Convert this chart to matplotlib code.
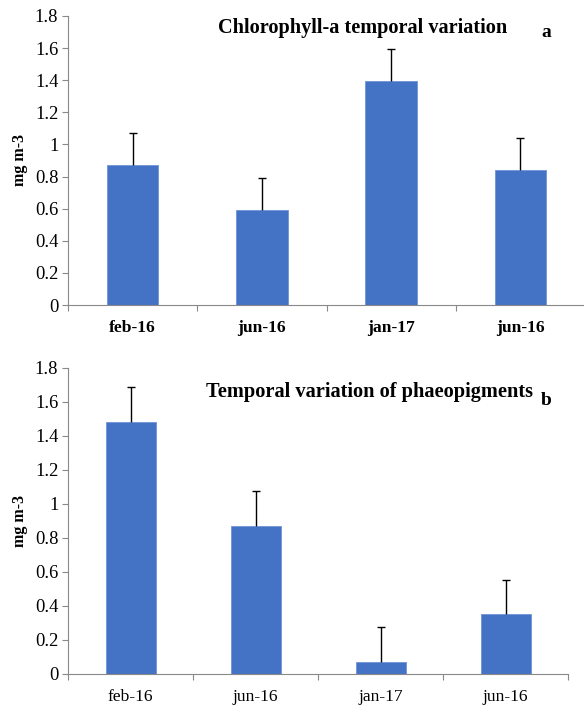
import numpy as np
import matplotlib
matplotlib.use("Agg")
import matplotlib.pyplot as plt

# data
months = ["feb-16", "jun-16", "jan-17", "jun-16"]
chl_a = [0.87, 0.59, 1.395, 0.84]
chl_a_err = [0.20, 0.20, 0.20, 0.20]
phaeo = [1.485, 0.872, 0.07, 0.355]
phaeo_err = [0.205, 0.202, 0.204, 0.20]
yticks = [0, 0.2, 0.4, 0.6, 0.8, 1, 1.2, 1.4, 1.6, 1.8]

plt.rcParams['font.family'] = ['Liberation Serif', 'DejaVu Serif']
bar_color = "#4472C4"
axis_grey = "#898989"

W, H = 584, 710
fig = plt.figure(figsize=(W / 100, H / 100), dpi=100)


def px_axes(left, top, right, bottom):
    # axes rect from pixel edges
    return fig.add_axes([left / W, 1 - bottom / H, (right - left) / W, (bottom - top) / H])


def draw_panel(ax, vals, errs, bold_x):
    x = np.arange(len(months))
    ax.bar(x, vals, width=0.4, color=bar_color, edgecolor="#6f93d6", linewidth=0.6, zorder=2)
    eb = ax.errorbar(x, vals, yerr=[np.zeros(len(errs)), errs], fmt="none",
                     ecolor="black", elinewidth=1.0, capsize=2.9, capthick=1.0, zorder=3)
    eb[1][0].set_visible(False)  # no cap at bar top

    ax.set_xlim(-0.5, len(months) - 0.5)
    ax.set_ylim(0, 1.8)
    ax.set_yticks(yticks)
    ax.set_yticklabels([f"{v:g}" for v in yticks], fontsize=13.3)
    ax.set_xticks(x)
    ax.set_xticklabels(months, fontsize=12.6, fontweight="bold" if bold_x else "normal")
    ax.tick_params(axis="x", which="major", length=0, pad=11)
    ax.set_xticks(np.arange(-0.5, len(months), 1.0), minor=True)
    ax.tick_params(axis="x", which="minor", length=4, color=axis_grey, width=0.8)
    ax.tick_params(axis="y", length=4, color=axis_grey, width=0.8, pad=3)

    for s in ["top", "right"]:
        ax.spines[s].set_visible(False)
    for s in ["left", "bottom"]:
        ax.spines[s].set_color(axis_grey)
        ax.spines[s].set_linewidth(0.8)
    ax.set_ylabel("mg m-3", fontsize=11.5, fontweight="bold", labelpad=5)


ax1 = px_axes(68, 16, 585, 305)
draw_panel(ax1, chl_a, chl_a_err, True)
fig.text(363 / W, 1 - 33 / H, "Chlorophyll-a temporal variation", ha="center", va="baseline",
         fontsize=14.6, fontweight="bold")
fig.text(546 / W, 1 - 37 / H, "a", ha="center", va="baseline", fontsize=14, fontweight="bold")

ax2 = px_axes(68, 368, 568, 674)
draw_panel(ax2, phaeo, phaeo_err, False)
fig.text(370 / W, 1 - 397 / H, "Temporal variation of phaeopigments", ha="center", va="baseline",
         fontsize=14.7, fontweight="bold")
fig.text(546 / W, 1 - 405 / H, "b", ha="center", va="baseline", fontsize=14, fontweight="bold")

fig.savefig("out.png", dpi=100)
